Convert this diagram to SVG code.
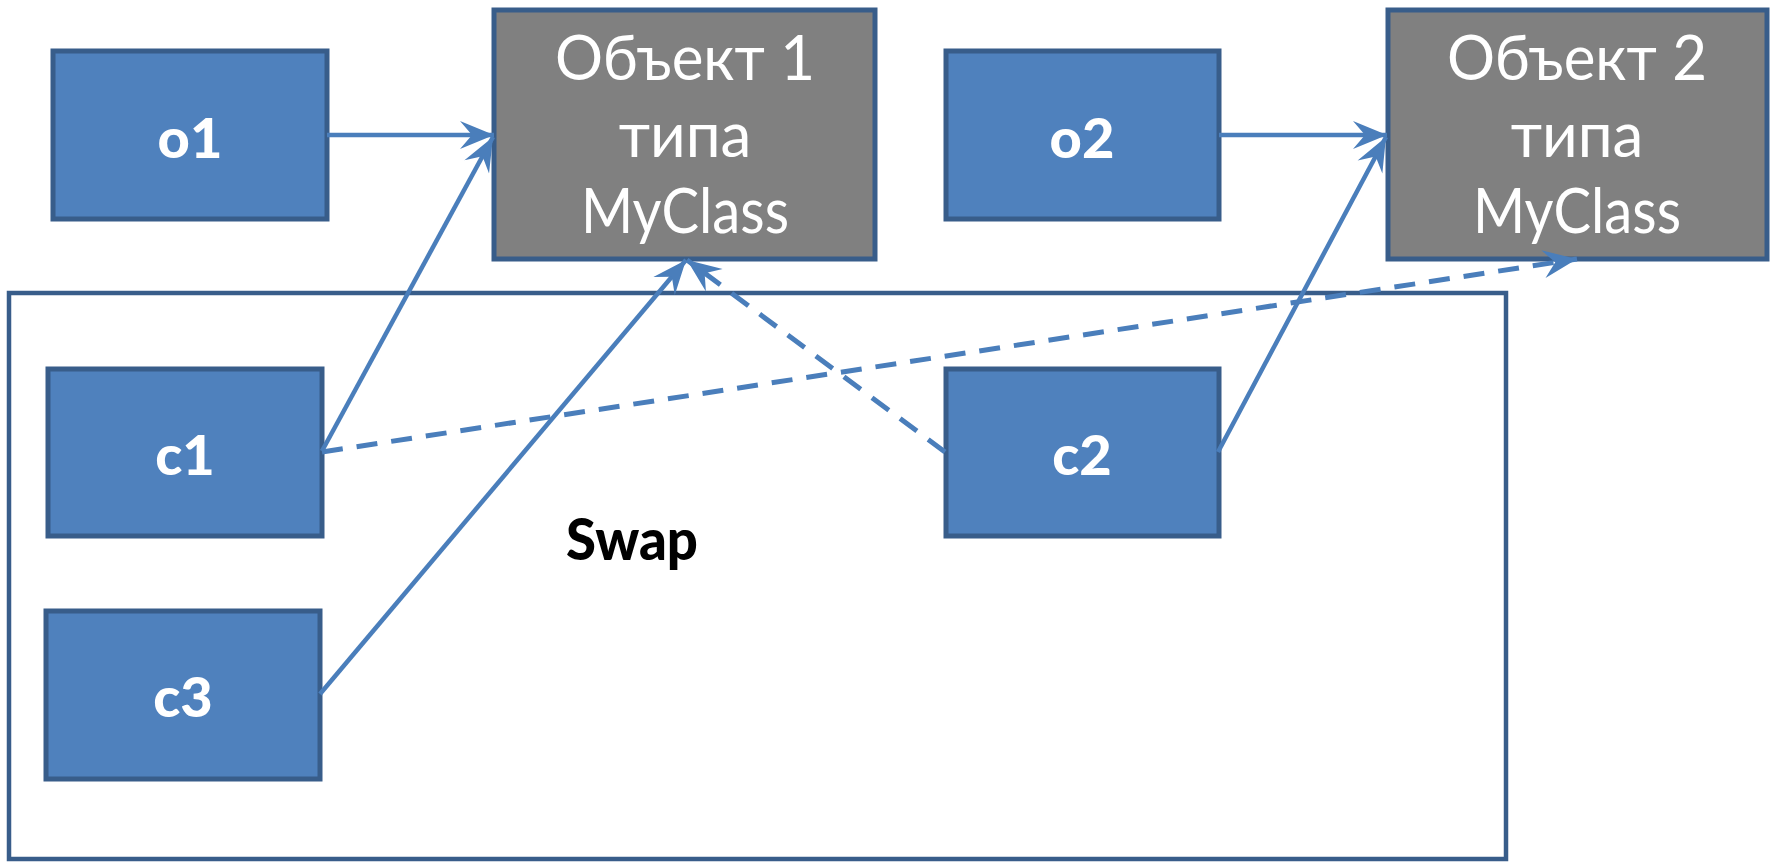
<svg xmlns="http://www.w3.org/2000/svg" width="1773" height="862" viewBox="0 0 1773 862">
  <style>
    .ref { fill: #4F81BD; stroke: #385D8A; stroke-width: 5; }
    .obj { fill: #808080; stroke: #385D8A; stroke-width: 5; }
    .frame { fill: #FFFFFF; stroke: #385D8A; stroke-width: 4.5; }
    .lbl { font-family: Lato, "Open Sans", "Liberation Sans", sans-serif; font-weight: 900; font-size: 56px; fill: #FFFFFF; text-anchor: middle; }
    .objtxt { font-family: Lato, "Open Sans", "Liberation Sans", sans-serif; font-size: 62px; fill: #FFFFFF; text-anchor: middle; }
    .title { font-family: Lato, "Open Sans", "Liberation Sans", sans-serif; font-weight: 900; font-size: 57px; fill: #000000; text-anchor: middle; }
    .link { fill: none; stroke: #4A7EBB; stroke-width: 4.5; marker-end: url(#head); }
    .dash { stroke-width: 5; stroke-dasharray: 21 14; }
  </style>
  <defs>
    <marker id="head" markerUnits="userSpaceOnUse" viewBox="-36 -16 38 32" markerWidth="38" markerHeight="32" refX="0" refY="0" orient="auto">
      <path d="M0 0 L-34 -14 L-22 0 L-34 14 Z" fill="#4A7EBB"/>
    </marker>
  </defs>

  <!-- Swap scope -->
  <g id="swap">
    <rect class="frame" x="9" y="293" width="1497" height="566"/>
    <text class="title" x="632" y="560" textLength="132" lengthAdjust="spacingAndGlyphs">Swap</text>
  </g>

  <g id="o1">
    <rect class="ref" x="53" y="51" width="274" height="168"/>
    <text class="lbl" x="190" y="158">o1</text>
  </g>
  <g id="obj1">
    <rect class="obj" x="494" y="10" width="381" height="249"/>
    <text class="objtxt" x="685" y="80" textLength="260" lengthAdjust="spacingAndGlyphs">Объект 1</text>
    <text class="objtxt" x="685" y="157">типа</text>
    <text class="objtxt" x="685" y="233" textLength="208" lengthAdjust="spacingAndGlyphs">MyClass</text>
  </g>
  <g id="o2">
    <rect class="ref" x="946" y="51" width="273" height="168"/>
    <text class="lbl" x="1082" y="158">o2</text>
  </g>
  <g id="obj2">
    <rect class="obj" x="1388" y="10" width="379" height="249"/>
    <text class="objtxt" x="1577" y="80" textLength="260" lengthAdjust="spacingAndGlyphs">Объект 2</text>
    <text class="objtxt" x="1577" y="157">типа</text>
    <text class="objtxt" x="1577" y="233" textLength="208" lengthAdjust="spacingAndGlyphs">MyClass</text>
  </g>
  <g id="c1">
    <rect class="ref" x="48" y="369" width="274" height="167"/>
    <text class="lbl" x="185" y="475">c1</text>
  </g>
  <g id="c2">
    <rect class="ref" x="946" y="369" width="273" height="167"/>
    <text class="lbl" x="1082" y="475">c2</text>
  </g>
  <g id="c3">
    <rect class="ref" x="46" y="611" width="274" height="168"/>
    <text class="lbl" x="183" y="717">c3</text>
  </g>

  <!-- references -->
  <g id="connectors">
    <path class="link" d="M327 135 L494 135"/>
    <path class="link" d="M322 451 L493 137"/>
    <path class="link" d="M320 694 L686 260"/>
    <path class="link dash" d="M945 452 L687 260"/>
    <path class="link dash" d="M322 452 L1577 259"/>
    <path class="link" d="M1219 135 L1387 135"/>
    <path class="link" d="M1218 452 L1386 137"/>
  </g>
</svg>
